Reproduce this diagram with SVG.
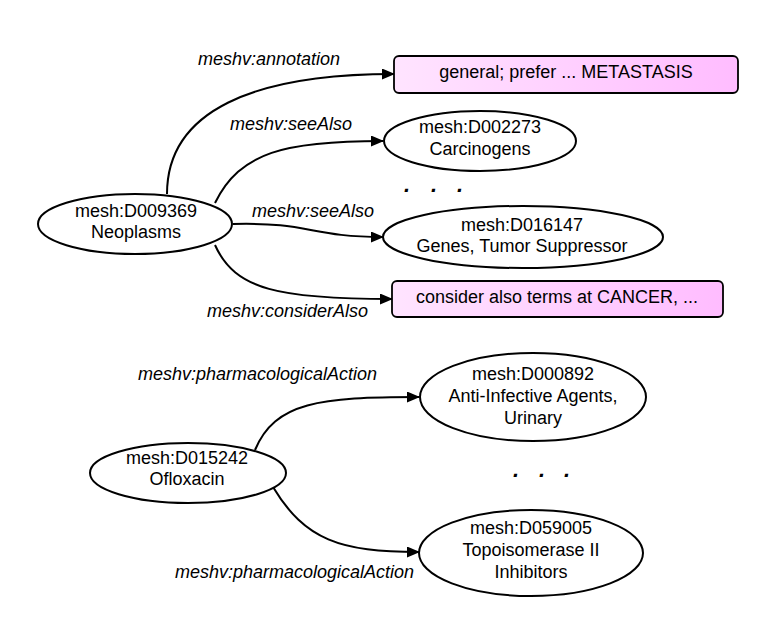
<svg xmlns="http://www.w3.org/2000/svg" width="779" height="638" viewBox="0 0 779 638">
<style>
text{font-family:"Liberation Sans",Arial,sans-serif;font-size:18px;fill:#000}
.n{text-anchor:middle}
.lbl{font-style:italic}
.el{fill:#fff;stroke:#000;stroke-width:2}
.box{fill:url(#pink);stroke:#000;stroke-width:1.8}
.e{fill:none;stroke:#000;stroke-width:2;marker-end:url(#arr)}
.dots{font-weight:bold;font-style:italic;font-size:22px}
</style>
<defs>
<linearGradient id="pink" x1="0" y1="0" x2="1" y2="0">
<stop offset="0" stop-color="#ffe4ff"/>
<stop offset="1" stop-color="#ffbcff"/>
</linearGradient>
<marker id="arr" markerUnits="userSpaceOnUse" markerWidth="13" markerHeight="11" refX="12" refY="5.5" orient="auto">
<path d="M0,0 L13,5.5 L0,11 z" fill="#000"/>
</marker>
</defs>
<rect width="779" height="638" fill="#fff"/>
<g id="connectors">
<path class="e" d="M167,194 C167,110 255,74 394,74"/>
<path class="e" d="M215,203 C240,152 285,141 383,141"/>
<path class="e" d="M233,224 C310,222 310,237 383,237"/>
<path class="e" d="M215,245 C235,290 280,299 392,299"/>
<path class="e" d="M255,450 C275,402 320,397 419,397"/>
<path class="e" d="M273,487 C305,540 340,552 419,552"/>
<text class="lbl" x="198" y="65">meshv:annotation</text>
<text class="lbl" x="230" y="130">meshv:seeAlso</text>
<text class="lbl" x="252" y="217">meshv:seeAlso</text>
<text class="lbl" x="207" y="317">meshv:considerAlso</text>
<text class="lbl" x="138" y="380">meshv:pharmacologicalAction</text>
<text class="lbl" x="175" y="578">meshv:pharmacologicalAction</text>
</g>
<g id="neoplasms">
<ellipse class="el" cx="135" cy="224" rx="97" ry="30"/>
<text class="n" x="136" y="217">mesh:D009369</text>
<text class="n" x="136" y="238">Neoplasms</text>
</g>
<g id="annotation">
<rect class="box" x="394" y="56" width="344" height="37" rx="5"/>
<text class="n" x="566" y="78">general; prefer ... METASTASIS</text>
</g>
<g id="carcinogens">
<ellipse class="el" cx="480" cy="141" rx="96" ry="30"/>
<text class="n" x="480" y="133">mesh:D002273</text>
<text class="n" x="480" y="155">Carcinogens</text>
</g>
<g id="dots1">
<text class="dots" x="404 431 457" y="192">...</text>
</g>
<g id="genes">
<ellipse class="el" cx="523" cy="237" rx="140" ry="31"/>
<text class="n" x="522" y="231">mesh:D016147</text>
<text class="n" x="522" y="252">Genes, Tumor Suppressor</text>
</g>
<g id="considerAlso">
<rect class="box" x="392" y="281" width="331" height="36" rx="5"/>
<text class="n" x="557" y="303">consider also terms at CANCER, ...</text>
</g>
<g id="ofloxacin">
<ellipse class="el" cx="188" cy="473" rx="98" ry="30"/>
<text class="n" x="187" y="464">mesh:D015242</text>
<text class="n" x="187" y="485">Ofloxacin</text>
</g>
<g id="antiinfective">
<ellipse class="el" cx="533" cy="397" rx="113" ry="44"/>
<text class="n" x="533" y="380">mesh:D000892</text>
<text class="n" x="533" y="402">Anti-Infective Agents,</text>
<text class="n" x="533" y="424">Urinary</text>
</g>
<g id="dots2">
<text class="dots" x="513 539 564" y="477">...</text>
</g>
<g id="topoisomerase">
<ellipse class="el" cx="531" cy="553" rx="112" ry="43"/>
<text class="n" x="531" y="534">mesh:D059005</text>
<text class="n" x="531" y="556">Topoisomerase II</text>
<text class="n" x="531" y="578">Inhibitors</text>
</g>
</svg>
